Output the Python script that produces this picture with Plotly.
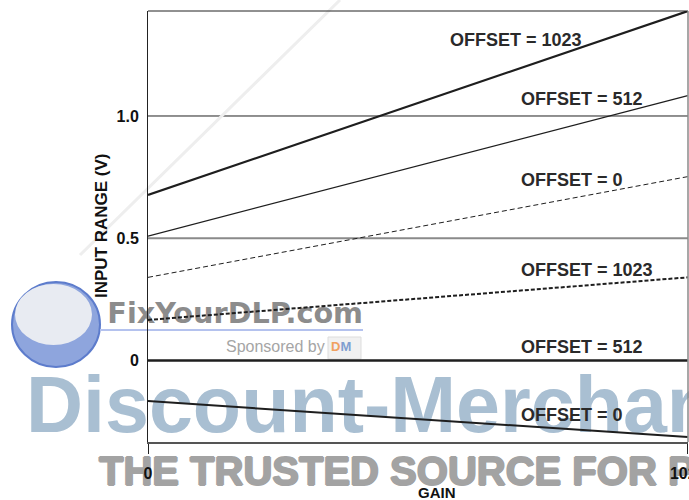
import plotly.graph_objects as go

# ---- data -------------------------------------------------------------
GAIN = [0, 1023]

UPPER_OFFSET_1023 = [0.677, 1.429]
UPPER_OFFSET_512 = [0.509, 1.083]
UPPER_OFFSET_0 = [0.340, 0.752]
LOWER_OFFSET_1023 = [0.166, 0.340]
LOWER_OFFSET_512 = [0.0, 0.0]
LOWER_OFFSET_0 = [-0.166, -0.313]

SERIES_LABELS = ["OFFSET = 1023", "OFFSET = 512", "OFFSET = 0",
                 "OFFSET = 1023", "OFFSET = 512", "OFFSET = 0"]

Y_TICKS = [0, 0.5, 1.0]
Y_TICK_TEXT = ["0", "0.5", "1.0"]
X_TICKS = [0, 1023]
X_TICK_TEXT = ["0", "1023"]

X_RANGE = [0, 1023.5]
Y_RANGE = [-0.3333, 1.4294]

# ---- styling ----------------------------------------------------------
FONT = "Liberation Sans, Arial, Helvetica, sans-serif"
WIDE = "DejaVu Sans, Verdana, sans-serif"
W, H = 689, 500
# plot frame in page pixels
PL, PR, PT, PB = 148, 688, 11, 442

SERIES = [UPPER_OFFSET_1023, UPPER_OFFSET_512, UPPER_OFFSET_0,
          LOWER_OFFSET_1023, LOWER_OFFSET_512, LOWER_OFFSET_0]
LINE_STYLES = [
    dict(width=2.2, dash="solid"),
    dict(width=1.2, dash="solid"),
    dict(width=1.0, dash="5px,3px"),
    dict(width=2.0, dash="4px,2px"),
    dict(width=2.6, dash="solid"),
    dict(width=2.0, dash="solid"),
]
# caption anchor (gain, volts) for each curve, left aligned
LABEL_POS = [(568, 1.311), (703, 1.070), (703, 0.737),
             (703, 0.370), (703, 0.057), (703, -0.223)]
# horizontal reference lines: level -> (colour, width)
GRID_STYLE = {1.0: ("#222222", 1.0), 0.5: ("#8a8a8a", 2.0)}

fig = go.Figure()

# ---- sponsor artwork on a full-page pixel layer (drawn underneath) ----
GREY = "#a3a3a3"
# (text, x, y, size, colour, weight, family, textposition, shadow)
wm = [
    ("Discount-Merchant.com", 26, 412, 79, "#a9bfd2", "bold", FONT,
     "middle right", "none"),
    ("FixYourDLP.com", 363, 316, 28.7, "#8c8c8c", "bold", WIDE,
     "middle left", "none"),
    ("Sponsored by", 226, 348, 16, "#a5a5a5", "normal", FONT,
     "middle right", "none"),
    ("THE TRUSTED SOURCE FOR PROJECTOR LAMPS", 99, 475, 40, GREY,
     "bold", FONT, "middle right",
     f"1px 0 {GREY}, -1px 0 {GREY}, 0 1px {GREY}, 0 -1px {GREY}"),
]
for txt, x, y, size, col, weight, fam, pos, shadow in wm:
    fig.add_trace(go.Scatter(
        x=[x], y=[y], mode="text", text=[txt], textposition=pos,
        textfont=dict(family=fam, size=size, color=col, weight=weight,
                      shadow=shadow),
        cliponaxis=False, hoverinfo="skip", showlegend=False,
        xaxis="x", yaxis="y"))
fig.add_trace(go.Scatter(
    x=[331], y=[348], mode="text",
    text=["<span style='color:#f0a060'>D</span>M"],
    textposition="middle right",
    textfont=dict(family=FONT, size=13, color="#7f9fd0", weight="bold"),
    cliponaxis=False, hoverinfo="skip", showlegend=False,
    xaxis="x", yaxis="y"))

# ---- curves -----------------------------------------------------------
for vals, style, name in zip(SERIES, LINE_STYLES, SERIES_LABELS):
    fig.add_trace(go.Scatter(
        x=GAIN, y=vals, mode="lines", name=name,
        line=dict(color="#1e1e1e", **style),
        cliponaxis=False, showlegend=False,
        xaxis="x2", yaxis="y2"))

shapes = []
# globe logo, swoosh and underline (page pixels)
shapes.append(dict(type="line", xref="x", yref="y", x0=340, y0=0, x1=80,
                   y1=255, line=dict(color="#eeeeee", width=3),
                   layer="below"))
shapes.append(dict(type="circle", xref="x", yref="y", x0=12, x1=100,
                   y0=282, y1=367, fillcolor="#8ea5dd",
                   line=dict(color="#5d7ccc", width=2), layer="below"))
shapes.append(dict(type="circle", xref="x", yref="y", x0=15, x1=92,
                   y0=284, y1=345, fillcolor="#e8ebf2",
                   line=dict(width=0), layer="below"))
shapes.append(dict(type="line", xref="x", yref="y", x0=100, x1=363,
                   y0=330, y1=330, line=dict(color="#b4c2ee", width=2),
                   layer="below"))
shapes.append(dict(type="rect", xref="x", yref="y", x0=328, x1=361,
                   y0=337, y1=359, fillcolor="#f1f1f1",
                   line=dict(color="#dddddd", width=1), layer="below"))

# reference lines at fixed voltages
for level in Y_TICKS:
    if level in GRID_STYLE:
        col, wid = GRID_STYLE[level]
        shapes.append(dict(type="line", xref="x2 domain", yref="y2",
                           x0=0, x1=1, y0=level, y1=level,
                           line=dict(color=col, width=wid), layer="below"))
# frame: top black, right grey
shapes.append(dict(type="line", xref="x2 domain", yref="y2 domain",
                   x0=0, x1=1, y0=1, y1=1,
                   line=dict(color="#222222", width=1)))
shapes.append(dict(type="line", xref="x2 domain", yref="y2 domain",
                   x0=1, x1=1, y0=0, y1=1,
                   line=dict(color="#8a8a8a", width=1.5)))

annotations = []
for (gx, gv), text in zip(LABEL_POS, SERIES_LABELS):
    annotations.append(dict(x=gx, y=gv, xref="x2", yref="y2", text=text,
                            showarrow=False, xanchor="left", yanchor="middle",
                            font=dict(family=FONT, size=18, color="#2a2a2a",
                                      weight="bold")))
annotations.append(dict(x=437, y=492, xref="x", yref="y",
                        text="GAIN", showarrow=False, xanchor="center",
                        yanchor="middle",
                        font=dict(family=FONT, size=15, color="#111111",
                                  weight="bold")))
annotations.append(dict(x=101, y=226, xref="x", yref="y",
                        text="INPUT RANGE (V)", textangle=-90, showarrow=False,
                        xanchor="center", yanchor="middle",
                        font=dict(family=FONT, size=17, color="#111111",
                                  weight="bold")))

tick_font = dict(family=FONT, size=16, color="#111111", weight="bold")

fig.update_layout(
    width=W, height=H,
    margin=dict(l=0, r=0, t=0, b=0, pad=0, autoexpand=False),
    paper_bgcolor="white", plot_bgcolor="rgba(0,0,0,0)",
    showlegend=False,
    shapes=shapes, annotations=annotations,
    xaxis=dict(domain=[0, 1], range=[0, W], visible=False, fixedrange=True,
               automargin=False),
    yaxis=dict(domain=[0, 1], range=[H, 0], visible=False, fixedrange=True,
               automargin=False),
    xaxis2=dict(domain=[PL / W, PR / W], anchor="y2", side="bottom",
                automargin=False, range=X_RANGE, showgrid=False,
                zeroline=False, showline=True, linecolor="#555555",
                linewidth=1.5, tickvals=X_TICKS, ticktext=X_TICK_TEXT,
                ticks="outside", ticklen=10, tickcolor="#222222", tickwidth=1,
                ticklabelstandoff=6, ticklabeloverflow="allow",
                tickfont=tick_font),
    yaxis2=dict(domain=[(H - PB) / H, (H - PT) / H], anchor="x2",
                side="left", automargin=False, range=Y_RANGE,
                showgrid=False, zeroline=False, showline=True,
                linecolor="#222222", linewidth=1,
                tickvals=Y_TICKS, ticktext=Y_TICK_TEXT,
                ticks="", ticklabelstandoff=5, tickfont=tick_font),
)

fig.write_html("out.html")
